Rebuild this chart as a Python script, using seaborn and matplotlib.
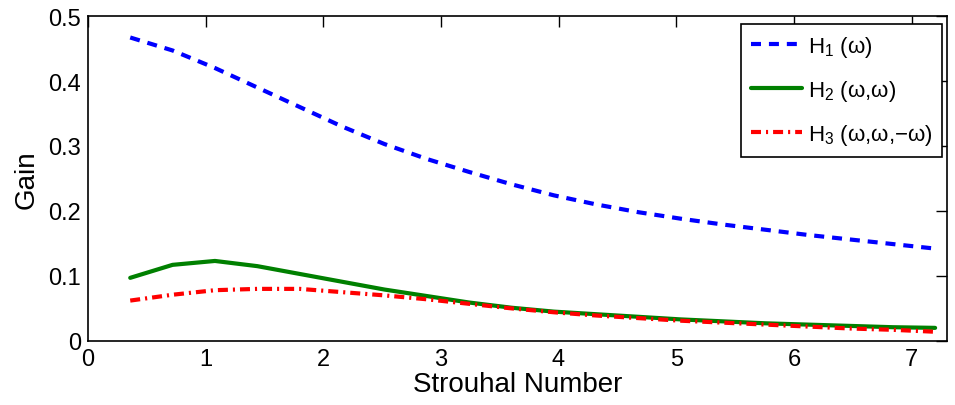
import numpy as np
import pandas as pd
import matplotlib
matplotlib.use("Agg")
import matplotlib.pyplot as plt
from matplotlib.ticker import FuncFormatter
import seaborn as sns

# Strouhal numbers at which the kernels were evaluated
strouhal = [0.36, 0.72, 1.08, 1.44, 1.80, 2.16, 2.52, 2.88, 3.24, 3.60,
            3.96, 4.32, 4.68, 5.04, 5.40, 5.76, 6.12, 6.48, 6.84, 7.20]

# Gains of the first, second and third order kernels
gain_h1 = [0.467, 0.447, 0.420, 0.390, 0.360, 0.330, 0.303, 0.280, 0.260, 0.241,
           0.224, 0.210, 0.198, 0.188, 0.179, 0.171, 0.163, 0.156, 0.149, 0.142]
gain_h2 = [0.097, 0.117, 0.123, 0.115, 0.103, 0.091, 0.079, 0.069, 0.059, 0.051,
           0.045, 0.041, 0.037, 0.033, 0.030, 0.027, 0.025, 0.023, 0.021, 0.020]
gain_h3 = [0.062, 0.071, 0.078, 0.080, 0.080, 0.075, 0.070, 0.064, 0.057, 0.050,
           0.044, 0.039, 0.035, 0.031, 0.028, 0.025, 0.022, 0.019, 0.017, 0.014]

labels = [r"H$_1$ ($\omega$)", r"H$_2$ ($\omega$,$\omega$)",
          r"H$_3$ ($\omega$,$\omega$,$-\omega$)"]
x_ticks = [0, 1, 2, 3, 4, 5, 6, 7]
y_ticks = [0, 0.1, 0.2, 0.3, 0.4, 0.5]

sns.set_style("white")
plt.rcParams["font.family"] = ["Liberation Sans", "DejaVu Sans"]
plt.rcParams["mathtext.fontset"] = "custom"
plt.rcParams["mathtext.rm"] = "Liberation Sans"
plt.rcParams["mathtext.it"] = "Liberation Sans"
plt.rcParams["mathtext.bf"] = "Liberation Sans"
plt.rcParams["text.color"] = "black"
plt.rcParams["axes.labelcolor"] = "black"

fig = plt.figure(figsize=(9.55, 4.06), dpi=100)
ax = fig.add_axes([0.092, 0.158, 0.8995, 0.8])

series = [
    (gain_h1, labels[0], (0, 0, 1), (2.4, 1.9)),
    (gain_h2, labels[1], (0, 0.5, 0), None),
    (gain_h3, labels[2], (1, 0, 0), (2.4, 1.2, 0.5, 1.2)),
]
for values, label, color, dash in series:
    df = pd.DataFrame({"St": strouhal, "Gain": values})
    line_ax = sns.lineplot(data=df, x="St", y="Gain", ax=ax, color=color,
                           linewidth=3.0, label=label)
    line = line_ax.get_lines()[-1]
    if dash is not None:
        line.set_dashes(dash)

ax.set_xlim(0, 7.3)
ax.set_ylim(0, 0.5)
ax.set_xticks(x_ticks)
ax.set_yticks(y_ticks)
ax.yaxis.set_major_formatter(FuncFormatter(lambda v, p: f"{v:g}"))
ax.tick_params(direction="in", length=8, width=1, top=True, right=True,
               labelsize=17, pad=5, colors="black")
for side in ax.spines.values():
    side.set_visible(True)
    side.set_color("black")
    side.set_linewidth(1.2)

ax.set_xlabel("Strouhal Number", fontsize=20, labelpad=1)
ax.set_ylabel("Gain", fontsize=20, labelpad=6)

leg = ax.legend(loc="upper right", bbox_to_anchor=(0.9945, 0.975),
                borderaxespad=0, fontsize=16, frameon=True, fancybox=False,
                framealpha=1, edgecolor="black", handlelength=2.3,
                borderpad=0.45, labelspacing=0.85, handletextpad=0.25)
leg.get_frame().set_linewidth(1.2)
for t in leg.get_texts():
    t.set_color("black")

fig.savefig("out.png", dpi=100)
